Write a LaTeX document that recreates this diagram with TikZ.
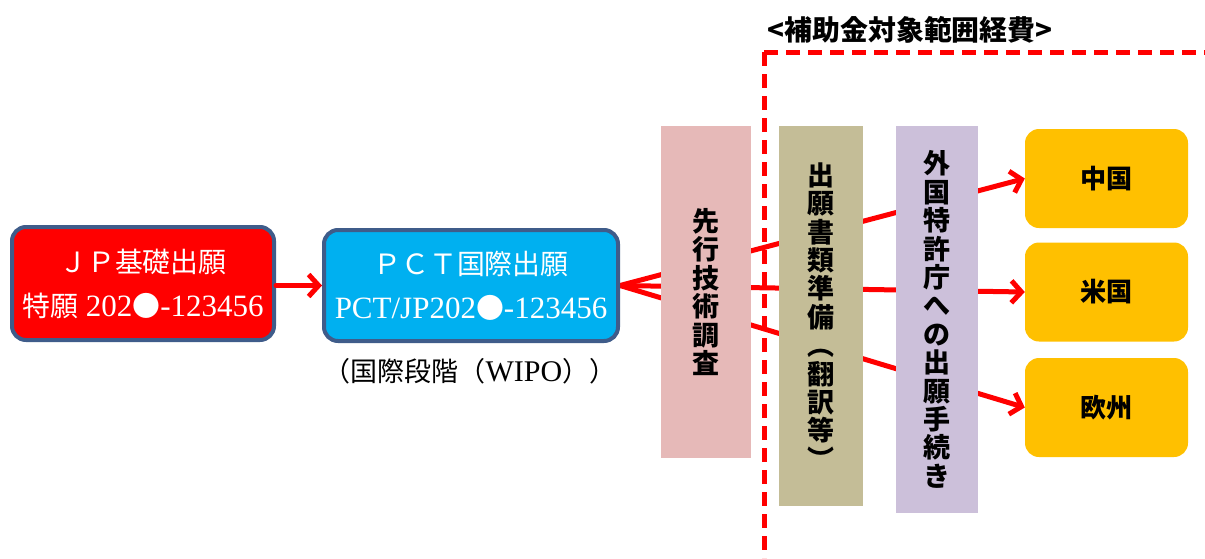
\documentclass[tikz,border=0pt]{standalone}
\usepackage{fontspec}
\setmainfont{Liberation Serif}
\newfontfamily\cjk[Scale=0.9]{Noto Sans CJK JP}
\usetikzlibrary{arrows.meta, backgrounds}

\definecolor{framegray}{HTML}{3F5C8A}
\definecolor{jpred}{HTML}{FF0000}
\definecolor{pctblue}{HTML}{00B0F0}
\definecolor{searchpink}{HTML}{E6B9B8}
\definecolor{docstan}{HTML}{C4BD97}
\definecolor{filelav}{HTML}{CCC0DA}
\definecolor{countryorange}{HTML}{FFC000}

\begin{document}
\begin{tikzpicture}[x=1pt, y=-1pt, >={Straight Barb[length=10pt,width=22pt]},
  appbox/.style={draw=framegray, line width=4pt, rounded corners=14pt, text=white, align=center, font=\fontsize{31}{44}\selectfont},
  column/.style={align=center, font=\cjk\bfseries\fontsize{30}{28.4}\selectfont},
  country/.style={fill=countryorange, rounded corners=14pt, minimum width=163pt, minimum height=99pt, font=\cjk\bfseries\fontsize{29}{30}\selectfont},
  flow/.style={draw=jpred, line width=5pt, line cap=round}]

\useasboundingbox (0,0) rectangle (1205,558);

% Domestic and PCT applications
\node[appbox, fill=jpred, minimum width=262pt, minimum height=113pt] (jp) at (143,283.5)
  {{\cjk ＪＰ基礎出願}\\{\cjk 特願} 202{\cjk ●}-123456};
\node[appbox, fill=pctblue, minimum width=294pt, minimum height=111pt] (pct) at (471,285.5)
  {{\cjk ＰＣＴ国際出願}\\PCT/JP202{\cjk ●}-123456};
\node[font=\fontsize{30}{30}\selectfont] (wipo) at (470,371) {{\cjk （国際段階（}WIPO{\cjk ））}};

\draw[flow,->] (jp.east |- pct.west) -- (pct.west);

% Steps before filing abroad
\node[column, fill=searchpink, minimum width=90pt, minimum height=332pt] (search) at (706,292)
  {先\\行\\技\\術\\調\\査};
\node[column, fill=docstan, minimum width=84pt, minimum height=380pt] (docs) at (821,316)
  {出\\願\\書\\類\\準\\備\\︵\\翻\\訳\\等\\︶};
\node[column, fill=filelav, minimum width=82pt, minimum height=387pt] (filing) at (937,319.5)
  {外\\国\\特\\許\\庁\\へ\\の\\出\\願\\手\\続\\き};

% Target countries
\node[country] (cn) at (1106.5,178.5) {中国};
\node[country] (us) at (1106.5,292) {米国};
\node[country] (eu) at (1106.5,407.5) {欧州};

% Lines fan out behind the columns
\begin{scope}[on background layer]
\draw[flow,->] (pct.east) -- (cn.west);
\draw[flow,->] (pct.east) -- (us.west);
\draw[flow,->] (pct.east) -- (eu.west);
\end{scope}

% Subsidy frame
\draw[jpred, line width=5pt, dash pattern=on 14pt off 8pt] (764,52) -- (1205,52);
\draw[jpred, line width=5pt, dash pattern=on 14pt off 8pt] (764,52) -- (764,558);
\node[anchor=west, font=\cjk\bfseries\fontsize{31}{32}\selectfont] (frame) at (764,30) {<補助金対象範囲経費>};

\end{tikzpicture}
\end{document}
